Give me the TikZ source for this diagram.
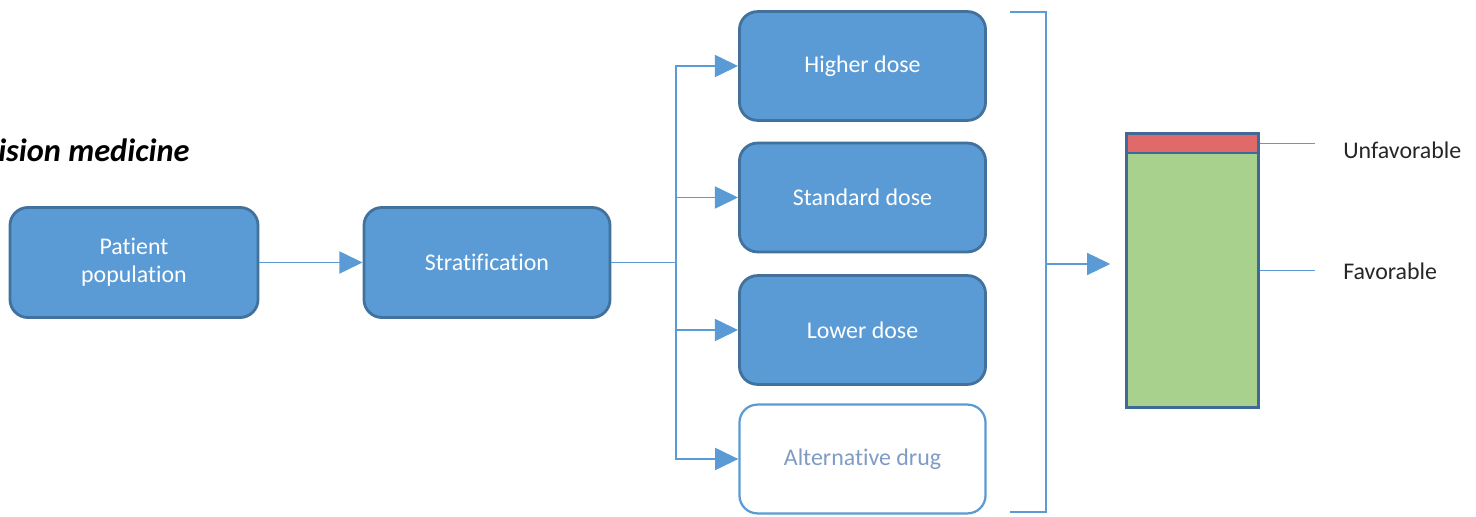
\documentclass[tikz,border=0pt]{standalone}
\usepackage{fontspec}
\setmainfont{Carlito}[Ligatures=NoCommon]
\usetikzlibrary{arrows.meta,positioning}
\definecolor{boxblue}{HTML}{5B9BD5}
\definecolor{boxedge}{HTML}{41719C}
\definecolor{altblue}{HTML}{7F9CC4}
\definecolor{barred}{HTML}{E06A6A}
\definecolor{bargreen}{HTML}{A9D18E}
\definecolor{baredge}{HTML}{3F6A97}
\definecolor{labelgray}{HTML}{262626}
\begin{document}
\begin{tikzpicture}[x=0.025cm, y=-0.025cm,
            stage box/.style={rectangle, rounded corners=0.45cm, draw=boxedge, fill=boxblue, line width=2pt, minimum width=6.15cm, minimum height=2.75cm, text=white, align=center},
            dose box/.style={stage box, minimum height=2.72cm},
            alt box/.style={dose box, fill=white, draw=boxblue, line width=1.6pt, text=altblue},
            link/.style={draw=boxblue, line width=1.4pt},
            arrow/.style={link, -{Triangle[length=0.58cm, width=0.55cm]}},
            every node/.style={font=\fontsize{17}{20}\selectfont}
    ]
        \useasboundingbox (0,0) rectangle (1476,517);

        % Title
        \node[anchor=base west, inner sep=0pt, font=\fontsize{23}{26}\selectfont\bfseries\itshape] (title) at (-2,162) {ision medicine};

        % Population and stratification
        \node[stage box, minimum width=6.2cm] (pop) at (134,262.5) {Patient\\population};
        \node[stage box] (strat) at (487,262.5) {Stratification};

        % Treatment arms
        \node[dose box] (high) at (862.5,66) {Higher dose};
        \node[dose box] (standard) at (862.5,197.5) {Standard dose};
        \node[dose box] (low) at (862.5,330) {Lower dose};
        \node[alt box] (alt) at (862.5,459) {Alternative drug};

        % Outcome bar
        \node[rectangle, draw=baredge, fill=bargreen, line width=2pt, minimum width=3.28cm, minimum height=6.83cm, inner sep=0pt] (bar) at (1192.5,270.5) {};
        \node[rectangle, draw=baredge, fill=barred, line width=2pt, minimum width=3.28cm, minimum height=0.48cm, inner sep=0pt, anchor=north] (red) at (bar.north) {};

        % Outcome labels
        \node[anchor=west, inner sep=0pt, text=labelgray] (unfav) at (1343,150) {Unfavorable};
        \node[anchor=west, inner sep=0pt, text=labelgray] (fav) at (1343,271) {Favorable};

        % Helper points
        \coordinate (split) at (676,262.5);
        \coordinate (brtop) at (1010,12);
        \coordinate (brbot) at (1010,512);
        \coordinate (brmid) at (1046,264);

        % Arrows
        \draw[arrow] (pop) -- (strat);
        \draw[link] (strat) -- (split);
        \draw[arrow] (split) |- (high.west);
        \draw[arrow] (split) |- (standard.west);
        \draw[arrow] (split) |- (low.west);
        \draw[arrow] (split) |- (alt.west);

        \draw[link, line width=1.2pt] (brtop) -| (brmid) |- (brbot);
        \draw[arrow, shorten >=0.38cm] (brmid) -- (bar.west |- brmid);

        \draw[link, line width=1.1pt, shorten >=0.7cm] (red.east) -- (red.east -| unfav.west);
        \draw[link, line width=1.1pt, shorten >=0.7cm] (bar.east) -- (bar.east -| fav.west);

    \end{tikzpicture}
\end{document}
